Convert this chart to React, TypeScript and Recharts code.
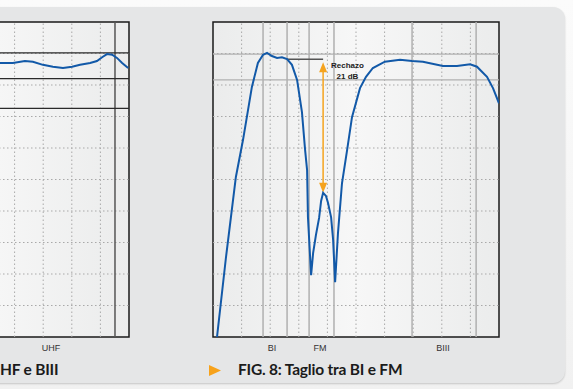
import {
  Line,
  LineChart,
  ReferenceArea,
  ReferenceDot,
  ReferenceLine,
  XAxis,
  YAxis,
} from "recharts";

// x in grid divisions (0..10), response in dB (0 at top, 5 dB per division)
const fig8X = [
  0.14, 0.45, 0.8, 1.05, 1.36, 1.57, 1.75, 1.89, 2.06, 2.24, 2.41, 2.59, 2.76,
  2.94, 3.11, 3.22, 3.29, 3.32, 3.43, 3.5, 3.6, 3.71, 3.78, 3.85, 3.95, 4.02,
  4.13, 4.2, 4.27, 4.37, 4.51, 4.69, 4.86, 5.14, 5.35, 5.59, 6.01, 6.54, 6.96,
  7.34, 8.04, 8.53, 8.99, 9.23, 9.58, 9.79, 10.0,
];
const fig8Db = [
  -50, -37.5, -24.6, -18.7, -10.3, -6.5, -5.2, -4.9, -5.4, -5.7, -5.6, -5.9,
  -6.8, -9.2, -14.3, -20.3, -23.5, -31.0, -40.2, -36.7, -33.8, -31.1, -28.4,
  -27.1, -27.6, -28.7, -31.0, -34.6, -41.3, -33.5, -25.6, -20.3, -15.1, -10.5,
  -8.7, -7.3, -6.3, -6.0, -6.2, -6.3, -7.0, -7.0, -6.7, -7.1, -8.7, -10.5,
  -12.9,
];
const fig8Bands = ["BI", "FM", "BIII"];
const fig8BandCenters = [2.06, 3.74, 8.04];
const fig8BandEdges = [1.75, 2.59, 3.36, 4.23, 6.96, 9.2];
const fig8Levels = [-5.1, -9.2];

const fig7X = [
  5.0, 5.49, 5.94, 6.36, 6.64, 6.99, 7.34, 7.69, 8.01, 8.29, 8.64, 8.88, 9.06,
  9.23, 9.41, 9.58, 9.76, 9.97,
];
const fig7Db = [
  -6.6, -6.5, -6.5, -6.2, -6.3, -6.8, -7.1, -7.3, -7.1, -6.8, -6.5, -6.2, -5.6,
  -5.1, -5.2, -5.7, -6.5, -7.3,
];
const fig7Bands = ["UHF"];
const fig7BandCenters = [7.27];
const fig7BandEdges = [9.51];
const fig7Levels = [-4.9, -9.0, -13.7];

const gridX = [1, 2, 3, 4, 5, 6, 7, 8, 9];
const gridY = [-5, -10, -15, -20, -25, -30, -35, -40, -45];

const refLevel = -5.9;
const refStartX = 2.59;
const rejectionX = 3.85;
const rejectionPeak = -27.1;
const rejectionText = ["Rechazo", "21 dB"];

const BLUE = "#1259a8";
const ORANGE = "#f5a31e";

const toRows = (xs: number[], ys: number[]) => xs.map((x, i) => ({ x, db: ys[i] }));

const Arrow = (p: any) => {
  const top = Math.min(p.y1, p.y2);
  const bot = Math.max(p.y1, p.y2);
  return (
    <g>
      <line x1={p.x1} y1={top + 8} x2={p.x1} y2={bot - 8} stroke={ORANGE} strokeWidth={1.5} />
      <path d={`M${p.x1},${top} l-4,10 h8 z`} fill={ORANGE} />
      <path d={`M${p.x1},${bot} l-4,-10 h8 z`} fill={ORANGE} />
    </g>
  );
};

const RejectLabel = (p: any) => (
  <text
    x={p.cx}
    y={p.cy}
    textAnchor="middle"
    fontFamily="Liberation Sans, Arial, sans-serif"
    fontSize={8}
    fontWeight={700}
    fill="#222"
  >
    <tspan x={p.cx} dy={3}>{rejectionText[0]}</tspan>
    <tspan x={p.cx} dy={11}>{rejectionText[1]}</tspan>
  </text>
);

type PanelProps = {
  id: string;
  rows: { x: number; db: number }[];
  bands: string[];
  centers: number[];
  edges: number[];
  levels: number[];
  edgeColor: string;
  levelColor: string;
  left: number;
  children?: any;
};

function Panel({ id, rows, bands, centers, edges, levels, edgeColor, levelColor, left, children }: PanelProps) {
  return (
    <div style={{ position: "absolute", left, top: 0 }}>
      <LineChart
        width={573}
        height={389}
        data={rows}
        margin={{ top: 22, right: 74, bottom: 32, left: 213 }}
      >
        <defs>
          <linearGradient id={`bg-${id}`} x1="0" y1="0" x2="1" y2="0">
            <stop offset="0%" stopColor="#ebecec" />
            <stop offset="50%" stopColor="#f7f7f7" />
            <stop offset="100%" stopColor="#ebecec" />
          </linearGradient>
        </defs>
        <XAxis
          dataKey="x"
          type="number"
          domain={[0, 10]}
          ticks={centers}
          tickFormatter={(v: number) => bands[centers.indexOf(v)] ?? ""}
          axisLine={false}
          tickLine={false}
          height={20}
          tick={{ fontSize: 9, fill: "#333", fontFamily: "Liberation Sans, Arial, sans-serif" }}
          allowDataOverflow
        />
        <YAxis hide type="number" domain={[-50, 0]} allowDataOverflow />
        <ReferenceArea x1={0} x2={10} y1={-50} y2={0} fill={`url(#bg-${id})`} fillOpacity={1} stroke="none" />
        {gridX.map((g) => (
          <ReferenceLine key={`gx${g}`} x={g} stroke="#a9a9a9" strokeDasharray="1.5 2.5" />
        ))}
        {gridY.map((g) => (
          <ReferenceLine key={`gy${g}`} y={g} stroke="#a9a9a9" strokeDasharray="1.5 2.5" />
        ))}
        {edges.map((e) => (
          <ReferenceLine key={`e${e}`} x={e} stroke={edgeColor} strokeWidth={1.5} />
        ))}
        {levels.map((l) => (
          <ReferenceLine key={`l${l}`} y={l} stroke={levelColor} strokeWidth={1.2} />
        ))}
        {children}
        <Line
          type="linear"
          dataKey="db"
          stroke={BLUE}
          strokeWidth={2}
          dot={false}
          isAnimationActive={false}
        />
        <ReferenceArea x1={0} x2={10} y1={-50} y2={0} fill="none" stroke="#1a1a1a" strokeWidth={1.5} />
      </LineChart>
    </div>
  );
}

const captionFont: any = {
  position: "absolute",
  top: 360,
  fontFamily: "Lato, 'Open Sans', sans-serif",
  fontWeight: 700,
  fontSize: 15.5,
  color: "#1b1b1b",
  whiteSpace: "nowrap",
  letterSpacing: -0.2,
};

export default function App() {
  return (
    <div
      style={{
        position: "fixed",
        left: 0,
        top: 0,
        width: 573,
        height: 389,
        overflow: "hidden",
        background: "linear-gradient(#fbfbfb, #f1f1f1)",
      }}
    >
      <div
        style={{
          position: "absolute",
          left: -20,
          top: 7,
          width: 585,
          height: 376,
          background: "#e5e6e7",
          borderRadius: 12,
          boxShadow: "0 1px 2px rgba(0,0,0,0.18)",
        }}
      />
      <Panel
        id="f7"
        rows={toRows(fig7X, fig7Db)}
        bands={fig7Bands}
        centers={fig7BandCenters}
        edges={fig7BandEdges}
        levels={fig7Levels}
        edgeColor="#555"
        levelColor="#2a2a2a"
        left={-370}
      />
      <Panel
        id="f8"
        rows={toRows(fig8X, fig8Db)}
        bands={fig8Bands}
        centers={fig8BandCenters}
        edges={fig8BandEdges}
        levels={fig8Levels}
        edgeColor="#b0b0b0"
        levelColor="#b0b0b0"
        left={0}
      >
        <ReferenceLine
          segment={[
            { x: refStartX, y: refLevel },
            { x: rejectionX, y: refLevel },
          ]}
          stroke="#555"
          strokeWidth={1.5}
        />
        <ReferenceLine
          segment={[
            { x: rejectionX, y: refLevel - 0.5 },
            { x: rejectionX, y: rejectionPeak },
          ]}
          shape={Arrow}
        />
        <ReferenceDot x={4.7} y={-6.8} r={0} shape={RejectLabel} />
      </Panel>
      <div style={{ ...captionFont, left: 0 }}>HF e BIII</div>
      <svg style={{ position: "absolute", left: 209, top: 365 }} width={13} height={11}>
        <path d="M0,0 L12,5.5 L0,11 z" fill="#f7a21b" />
      </svg>
      <div style={{ ...captionFont, left: 238 }}>FIG. 8: Taglio tra BI e FM</div>
    </div>
  );
}
